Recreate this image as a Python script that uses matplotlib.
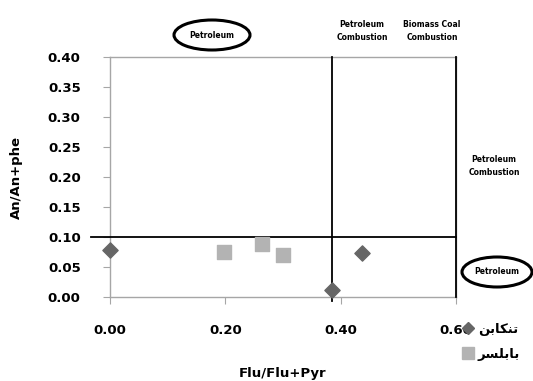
import numpy as np
import matplotlib.pyplot as plt
from matplotlib.patches import Ellipse
from matplotlib.lines import Line2D

# Tonekabon (diamonds) and Babolsar (squares)
flu_tonekabon = [0.00, 0.385, 0.437]
an_tonekabon = [0.079, 0.012, 0.074]
flu_babolsar = [0.198, 0.264, 0.300]
an_babolsar = [0.076, 0.088, 0.071]

# Arabic-script labels pre-shaped into visual order (matplotlib has no bidi shaping)
label_tonekabon = "\ufee6\ufe91\ufe8e\ufedc\ufee8\ufe97"   # تنکابن
label_babolsar = "\ufeae\ufeb4\ufee0\ufe91\ufe8e\ufe91"    # بابلسر

xticks = [0.0, 0.2, 0.4, 0.6]
yticks = [0.0, 0.05, 0.10, 0.15, 0.20, 0.25, 0.30, 0.35, 0.40]

fig = plt.figure(figsize=(5.33, 3.81), dpi=100)
ax = fig.add_axes([0.206, 0.220, 0.650, 0.630])

ax.scatter(flu_tonekabon, an_tonekabon, marker='D', s=60, color='#666666', zorder=4, clip_on=False)
ax.scatter(flu_babolsar, an_babolsar, marker='s', s=110, color='#b3b3b3', zorder=4, clip_on=False)

# threshold lines
ax.plot([-0.032, 0.6], [0.10, 0.10], color='black', lw=1.3, clip_on=False, zorder=3)
ax.plot([0.385, 0.385], [-0.006, 0.40], color='black', lw=1.3, clip_on=False, zorder=3)
ax.plot([0.6, 0.6], [0.0, 0.40], color='black', lw=1.3, clip_on=False, zorder=3)

ax.set_xlim(0, 0.6)
ax.set_ylim(0, 0.40)
ax.set_xticks(xticks)
ax.set_yticks(yticks)
ax.set_xticklabels(['%.2f' % v for v in xticks], fontweight='bold', fontsize=9.5)
ax.set_yticklabels(['%.2f' % v for v in yticks], fontweight='bold', fontsize=9.5)
ax.tick_params(axis='x', length=5, color='#a6a6a6', pad=14)
ax.tick_params(axis='y', length=5, color='#a6a6a6', pad=16)
for s in ax.spines.values():
    s.set_color('#a6a6a6')
    s.set_linewidth(1.0)

ax.set_xlabel('Flu/Flu+Pyr', fontweight='bold', fontsize=9.5, labelpad=22)
ax.set_ylabel('An/An+phe', fontweight='bold', fontsize=9.5, labelpad=18)

# region annotations
fs = 5.5
fig.text(212 / 533, 1 - 35 / 381, 'Petroleum', fontsize=fs, fontweight='bold', ha='center', va='center')
fig.patches.append(Ellipse((212 / 533, 1 - 35 / 381), 76 / 533, 30 / 381, transform=fig.transFigure,
                           fill=False, lw=2.2, color='black'))
fig.text(362 / 533, 1 - 31 / 381, 'Petroleum\nCombustion', fontsize=fs, fontweight='bold', ha='center', va='center',
         linespacing=1.6)
fig.text(432 / 533, 1 - 31 / 381, 'Biomass Coal\nCombustion', fontsize=fs, fontweight='bold', ha='center', va='center',
         linespacing=1.6)
fig.text(494 / 533, 1 - 166 / 381, 'Petroleum\nCombustion', fontsize=fs, fontweight='bold', ha='center', va='center',
         linespacing=1.6)
fig.text(497 / 533, 1 - 272 / 381, 'Petroleum', fontsize=fs, fontweight='bold', ha='center', va='center')
fig.patches.append(Ellipse((497 / 533, 1 - 272 / 381), 70 / 533, 30 / 381, transform=fig.transFigure,
                           fill=False, lw=2.2, color='black'))

handles = [Line2D([], [], marker='D', ls='none', color='#666666', markersize=6),
           Line2D([], [], marker='s', ls='none', color='#b3b3b3', markersize=9)]
fig.legend(handles, [label_tonekabon, label_babolsar], loc='center left',
           bbox_to_anchor=(450 / 533, 1 - 342 / 381), frameon=False, handletextpad=0.2,
           handlelength=1.0, labelspacing=0.9, prop={'family': 'DejaVu Sans', 'weight': 'bold', 'size': 9.5})

fig.savefig('out.png', dpi=100)
